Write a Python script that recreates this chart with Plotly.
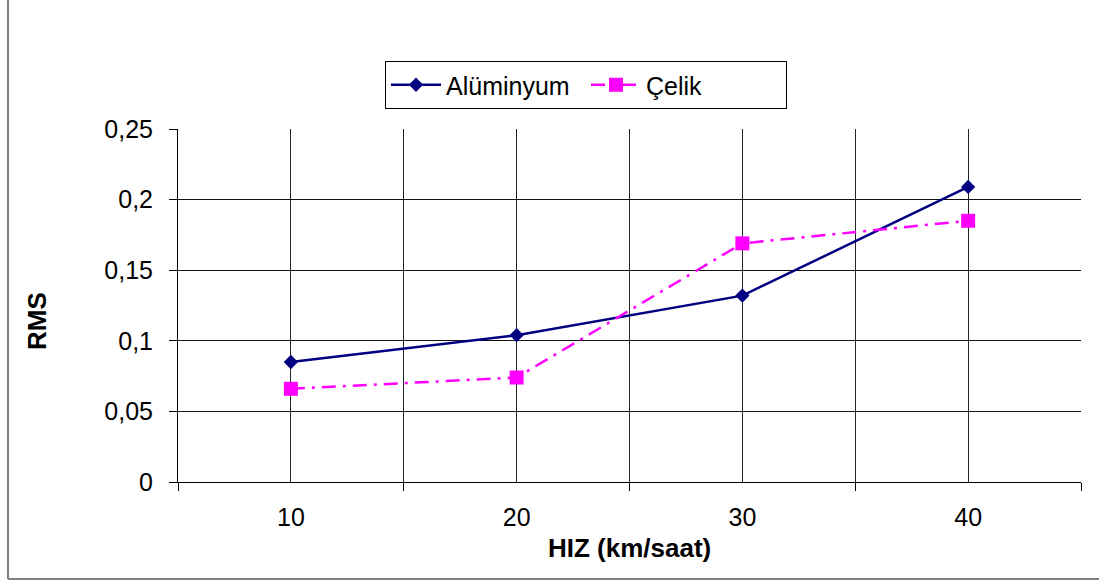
import plotly.graph_objects as go

# Speed (km/saat) and RMS values for the two materials
hiz = [10, 20, 30, 40]
aluminyum = [0.085, 0.104, 0.132, 0.209]
celik = [0.066, 0.074, 0.169, 0.185]

FONT = "Liberation Sans, Arial, sans-serif"

fig = go.Figure()
fig.add_trace(go.Scatter(
    x=hiz, y=aluminyum, name="Alüminyum", mode="lines+markers",
    line=dict(color="#000080", width=2.5),
    marker=dict(symbol="diamond", size=11, color="#000080"),
))
fig.add_trace(go.Scatter(
    x=hiz, y=celik, name="Çelik", mode="lines+markers",
    line=dict(color="#FF00FF", width=2.5, dash="14px,7px,3px,7px"),
    marker=dict(symbol="square", size=14, color="#FF00FF"),
))

L, R, T, B = 178, 18, 129, 101
W, H = 1099, 583
pw, ph = W - L - R, H - T - B


def px_x(v):
    return (v - L) / pw


def px_y(v):
    return (H - B - v) / ph


fig.update_layout(
    width=W, height=H,
    margin=dict(l=L, r=R, t=T, b=B, pad=0),
    paper_bgcolor="white", plot_bgcolor="white",
    separators=",.",
    font=dict(family=FONT, size=25, color="black"),
    showlegend=True,
    legend=dict(
        orientation="h", x=px_x(586), xanchor="center",
        y=px_y(85), yanchor="middle",
        bordercolor="black", borderwidth=1, bgcolor="white",
        font=dict(size=25), itemwidth=50, entrywidth=135, tracegroupgap=0,
    ),
    xaxis=dict(
        range=[5, 45], tickvals=hiz, ticks="", showgrid=True,
        gridcolor="#222", gridwidth=1, zeroline=False,
        showline=True, linecolor="black", linewidth=1,
        minor=dict(tickvals=[5, 15, 25, 35, 45], ticks="outside",
                   ticklen=8, tickcolor="black", showgrid=True,
                   gridcolor="#222", gridwidth=1),
        ticklabelstandoff=13,
    ),
    yaxis=dict(
        range=[0, 0.25], dtick=0.05, tick0=0, ticks="outside", ticklen=8,
        tickcolor="black", showgrid=True, gridcolor="#111", gridwidth=1,
        zeroline=False, showline=True, linecolor="black", linewidth=1,
        ticklabelstandoff=11,
    ),
    annotations=[
        dict(text="<b>HIZ (km/saat)</b>", xref="paper", yref="paper",
             x=px_x(629), y=px_y(548), xanchor="center", yanchor="middle",
             showarrow=False, font=dict(size=26)),
        dict(text="<b>RMS</b>", xref="paper", yref="paper",
             x=px_x(37), y=px_y(321), xanchor="center", yanchor="middle",
             textangle=-90, showarrow=False, font=dict(size=26)),
    ],
    shapes=[
        dict(type="line", xref="paper", yref="paper",
             x0=px_x(8), y0=px_y(579), x1=px_x(1100), y1=px_y(579),
             line=dict(color="#808080", width=2)),
        dict(type="line", xref="paper", yref="paper",
             x0=px_x(8), y0=px_y(579), x1=px_x(8), y1=px_y(-2),
             line=dict(color="#808080", width=2)),
    ],
)

fig.write_html("out.html")
